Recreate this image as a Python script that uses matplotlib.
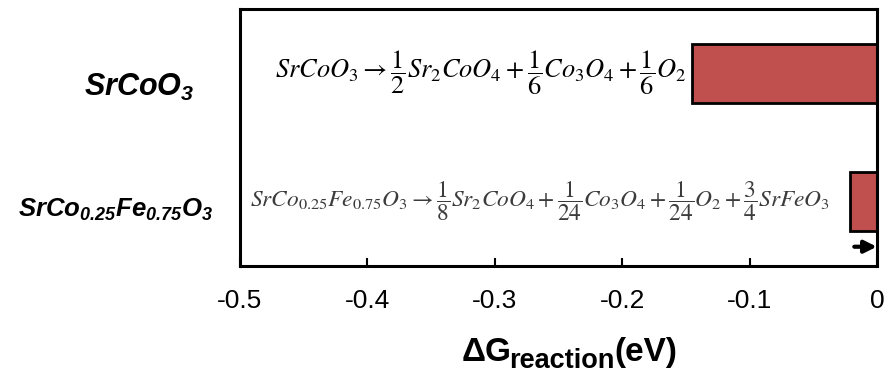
import matplotlib
matplotlib.use("Agg")
import matplotlib.pyplot as plt

categories = ["$SrCoO_3$", "$SrCo_{0.25}Fe_{0.75}O_3$"]
values = [-0.145, -0.021]
xticks = [-0.5, -0.4, -0.3, -0.2, -0.1, 0]
xtick_labels = ["-0.5", "-0.4", "-0.3", "-0.2", "-0.1", "0"]
equations = [
    r"$SrCoO_3 \rightarrow \dfrac{1}{2}Sr_2CoO_4 + \dfrac{1}{6}Co_3O_4 + \dfrac{1}{6}O_2$",
    r"$SrCo_{0.25}Fe_{0.75}O_3 \rightarrow \dfrac{1}{8}Sr_2CoO_4 + \dfrac{1}{24}Co_3O_4 + \dfrac{1}{24}O_2 + \dfrac{3}{4}SrFeO_3$",
]
xlabel_parts = ["ΔG", "reaction", "(eV)"]

plt.rcParams["mathtext.fontset"] = "stix"
plt.rcParams["mathtext.rm"] = "Liberation Sans:bold:italic"
plt.rcParams["mathtext.it"] = "Liberation Sans:bold:italic"
plt.rcParams["mathtext.bf"] = "Liberation Sans:bold"
plt.rcParams["font.family"] = ["Liberation Sans", "DejaVu Sans"]

W, H = 893, 375
fig = plt.figure(figsize=(W / 100, H / 100), dpi=100)
ax = fig.add_axes([240 / W, 1 - 266 / H, 637 / W, 257 / H])

ypos = list(range(len(values)))
ax.barh(ypos, values, height=0.46, color="#C0504D", edgecolor="black", linewidth=2)
ax.set_xlim(-0.5, 0)
ax.set_ylim(1.5, -0.5)
ax.set_yticks([])
ax.set_xticks(xticks)
ax.set_xticklabels(xtick_labels, fontsize=19)
ax.tick_params(axis="x", direction="in", length=6, width=1.5, pad=16.5)
for s in ax.spines.values():
    s.set_linewidth(2.2)

# category labels (centred, outside the axes)
label_px = [(139, 87), (115, 210)]
label_sizes = [22, 18.5]
for lab, (px, py), fs in zip(categories, label_px, label_sizes):
    fig.text(px / W, 1 - py / H, lab, ha="center", va="center", fontsize=fs,
             math_fontfamily="custom")

# equations
eq_x = [-0.4725, -0.492]
eq_sizes = [19, 16.8]
eq_colors = ["black", "#3c3c3c"]
for y, eq, ex, fs, c in zip(ypos, equations, eq_x, eq_sizes, eq_colors):
    ax.text(ex, y, eq, ha="left", va="center", fontsize=fs, color=c,
            math_fontfamily="stix")

# arrow
ax.annotate("", xy=(0.002, 1.35), xytext=(-0.02, 1.35),
            arrowprops=dict(arrowstyle="-|>", color="black", lw=3, mutation_scale=18),
            annotation_clip=False)

# x-axis label built from pieces (large subscript)
t1 = fig.text(462 / W, 1 - 361 / H, xlabel_parts[0], ha="left", va="baseline",
              fontsize=24, fontweight="bold")
t2 = fig.text(0, 0, xlabel_parts[1], fontsize=19.5, fontweight="bold",
              ha="left", va="baseline")
t3 = fig.text(0, 0, xlabel_parts[2], fontsize=24, fontweight="bold",
              ha="left", va="baseline")
fig.canvas.draw()
r = fig.canvas.get_renderer()
bb1 = t1.get_window_extent(r)
t2.set_position(((bb1.x1 - 3) / W, (H - 361 - 7) / H))
bb2 = t2.get_window_extent(r)
t3.set_position((bb2.x1 / W, (H - 361) / H))

fig.savefig("out.png", dpi=100)
